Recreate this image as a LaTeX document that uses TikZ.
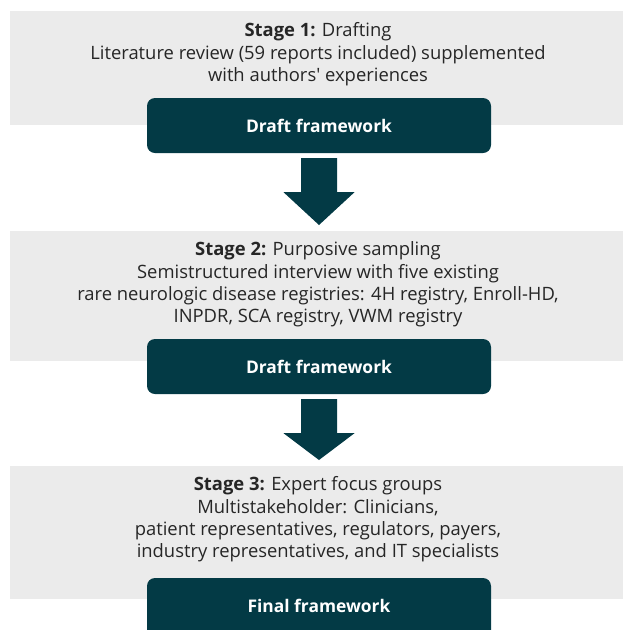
\documentclass[tikz,border=0pt]{standalone}
\usepackage{fontspec}
\setmainfont{Open Sans}[Ligatures=TeXOff]
\usetikzlibrary{calc}
\definecolor{panelgray}{HTML}{EBEBEB}
\definecolor{deepteal}{HTML}{033A45}
\definecolor{bodytext}{HTML}{262626}
\tikzset{
  panel/.style={fill=panelgray, draw=none},
  stagetext/.style={anchor=north, align=center, text=bodytext,
    font=\fontsize{18.4}{22.2}\selectfont, inner sep=0pt},
  framebox/.style={fill=deepteal, draw=none, rounded corners=8pt,
    minimum width=344pt, minimum height=55pt, text=white,
    font=\fontsize{17.4}{20}\selectfont\bfseries, inner sep=0pt},
  blockarrow/.style={fill=deepteal, draw=none}
}
\newcommand{\stagelabel}[1]{\textbf{#1}}
\newcommand{\downarrowblock}[2]{%
  \fill[blockarrow]
    ($(#1.south)+(-18,5)$) -- ($(#1.south)+(18,5)$) --
    ($(#1.south)+(18,39)$) -- ($(#1.south)+(35.5,39)$) --
    ($(#2.north)+(0,-6)$) -- ($(#1.south)+(-35.5,39)$) --
    ($(#1.south)+(-18,39)$) -- cycle;}
\begin{document}
\begin{tikzpicture}[x=1pt,y=-1pt]
  \useasboundingbox (0,0) rectangle (623,630);
  % grey stage panels
  \fill[panel] (10,11) rectangle (623,125);
  \fill[panel] (10,231) rectangle (623,361);
  \fill[panel] (10,466) rectangle (623,599);
  \coordinate (p2top) at (319,231);
  \coordinate (p3top) at (319,466);
  % stage descriptions
  \node[stagetext] (s1) at (318,22.7) {\stagelabel{Stage 1:} Drafting\\
    Literature review (59 reports included) supplemented\\
    with authors' experiences};
  \node[stagetext] (s2) at (318,241.7) {\stagelabel{Stage 2:} Purposive sampling\\
    Semistructured interview with five existing\\
    rare neurologic disease registries: 4H registry, Enroll-HD,\\
    INPDR, SCA registry, VWM registry};
  \node[stagetext] (s3) at (318,476.7) {\stagelabel{Stage 3:} Expert focus groups\\
    Multistakeholder: Clinicians,\\
    patient representatives, regulators, payers,\\
    industry representatives, and IT specialists};
  % framework boxes
  \node[framebox] (f1) at (319,125.5) {Draft framework};
  \node[framebox] (f2) at (319,366.5) {Draft framework};
  \node[framebox, minimum height=60pt] (f3) at (319,608) {\raisebox{4pt}{Final framework}};
  % block arrows between stages
  \downarrowblock{f1}{p2top}
  \downarrowblock{f2}{p3top}
\end{tikzpicture}
\end{document}
